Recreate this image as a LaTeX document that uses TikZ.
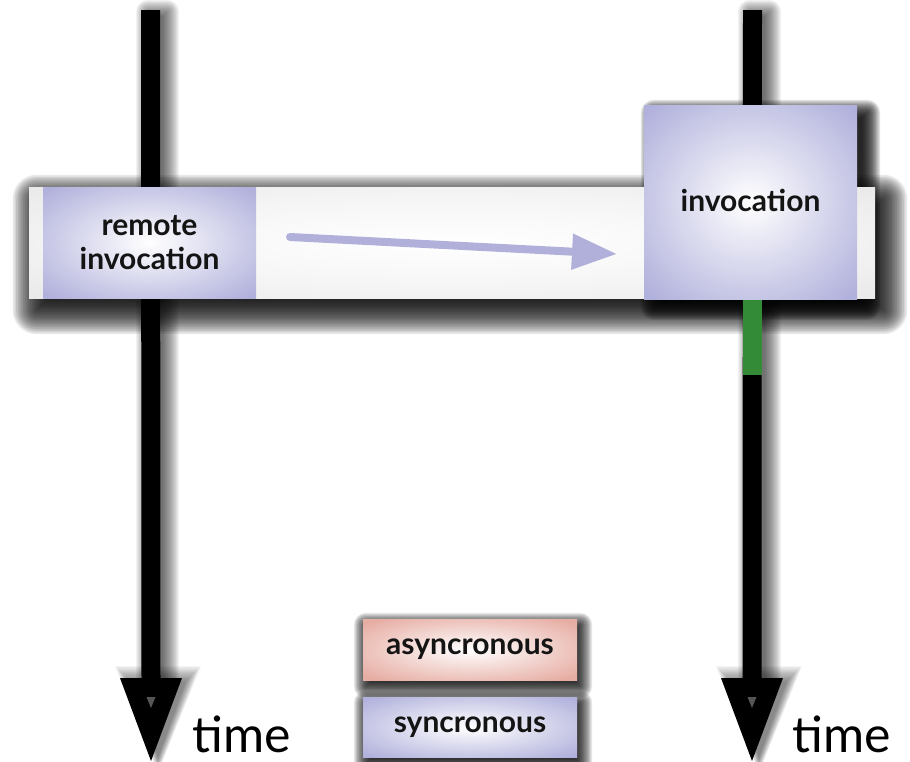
\documentclass[tikz,border=0pt]{standalone}
\usepackage{fontspec}
\setmainfont{Lato}
\usetikzlibrary{calc,arrows.meta}

\definecolor{syncblue}{HTML}{B0B0DC}
\definecolor{syncedge}{HTML}{D0D0DC}
\definecolor{asyncpink}{HTML}{E6ACA2}
\definecolor{asyncedge}{HTML}{DCCAC6}
\definecolor{bandgray}{HTML}{DEDEDE}
\definecolor{msgblue}{HTML}{B0B0DA}
\definecolor{busygreen}{HTML}{338A37}
\definecolor{tipgray}{HTML}{555555}

% radial fills: white centre, coloured ring, greyish corners
\pgfdeclareradialshading{syncshade}{\pgfpoint{0bp}{0bp}}{%
  color(0bp)=(white); color(34bp)=(syncblue); color(50bp)=(syncblue!60!syncedge); color(71bp)=(syncedge)}
\pgfdeclareradialshading{asyncshade}{\pgfpoint{0bp}{0bp}}{%
  color(0bp)=(white); color(33bp)=(asyncpink); color(50bp)=(asyncedge); color(71bp)=(asyncedge)}
\pgfdeclareradialshading{bandshade}{\pgfpoint{0bp}{0bp}}{%
  color(0bp)=(white); color(20bp)=(white!70!bandgray); color(50bp)=(bandgray); color(71bp)=(bandgray)}

% soft drop shadow behind a rectangular node, built from stacked translucent layers:
% #1 node, #2 x offset, #3 y offset (downwards), #4 blur radius, #5 opacity per layer
\newcommand\dropshade[5]{%
  \foreach \k in {0,...,19}{%
    \pgfmathsetmacro\ex{#4*(1-\k/14)}%
    \pgfmathsetmacro\rc{max(\ex,0.5)}%
    \fill[black, opacity=#5, rounded corners=\rc pt]
      ($(#1.north west)+(#2-\ex,#3-\ex)$) rectangle ($(#1.south east)+(#2+\ex,#3+\ex)$);
  }}

\begin{document}
\begin{tikzpicture}[x=1pt,y=-1pt,
  lbl/.style={font=\fontsize{30}{34}\selectfont\bfseries, text=black!92, align=center},
  syncbox/.style={shading=syncshade, inner sep=0pt, lbl},
  asyncbox/.style={shading=asyncshade, inner sep=0pt, lbl},
  bandbox/.style={shading=bandshade, inner sep=0pt},
  timeline/.style={fill=black},
  tipmark/.style={fill=tipgray},
  ghost/.style={inner sep=0pt},
  busy/.style={fill=busygreen, inner sep=0pt, minimum width=19pt, minimum height=75pt},
  msg/.style={draw=msgblue, line width=8pt, line cap=round,
    -{Triangle[width=34pt,length=45pt,fill=msgblue]}},
  timelbl/.style={font=\fontsize{50}{54}\selectfont, text=black, inner sep=0pt, anchor=base west}
]
\useasboundingbox (0,0) rectangle (910,761);

% outlines used to cast shadows
\node[ghost, minimum width=846pt, minimum height=111pt] (bandarea) at (452,242.5) {};
\node[ghost, minimum width=19pt, minimum height=668pt] (Lshaft) at (150.5,344) {};
\node[ghost, minimum width=19pt, minimum height=668pt] (Rshaft) at (752.5,344) {};
\node[ghost, minimum width=213pt, minimum height=194pt] (invocarea) at (750.5,202) {};

\dropshade{bandarea}{8}{12}{24}{0.09}
\dropshade{Lshaft}{7}{2}{12}{0.04}
\dropshade{Rshaft}{7}{2}{12}{0.04}

% time axes of the two processes
\coordinate (Ltop) at (150.5,10);
\coordinate (Lend) at (151,761);
\coordinate (Rtop) at (752.5,10);
\coordinate (Rend) at (752,761);

\foreach \t/\e in {Ltop/Lend, Rtop/Rend}{
  \foreach \k in {0,...,13}{
    \pgfmathsetmacro\ex{12*(1-\k/10)}
    \fill[black, opacity=0.045]
      ($(\e)+(9.5+7+\ex,-83-\ex)$) -- ($(\e)+(31+7+\ex,-83-\ex)$) -- ($(\e)+(7,\ex)$) --
      ($(\e)+(-31+7-\ex,-83-\ex)$) -- cycle;
  }
  \fill[timeline] ($(\t)+(-9.5,0)$) -- ($(\t)+(9.5,0)$) --
    ($(\e)+(9.5,-83)$) -- ($(\e)+(31,-83)$) -- (\e) -- ($(\e)+(-31,-83)$) --
    ($(\e)+(-9.5,-83)$) -- cycle;
  \fill[tipmark] ($(\e)+(-4.5,-64)$) -- ($(\e)+(4.5,-64)$) -- ($(\e)+(0,-53)$) -- cycle;
}

% callee box shadow falls behind the band
\dropshade{invocarea}{10}{8}{13}{0.09}

% the call band
\node[bandbox, minimum width=846pt, minimum height=111pt] (band) at (452,242.5) {};

% caller and callee boxes
\node[syncbox, minimum width=213pt, minimum height=111pt] (remote) at (149.5,242.5)
  {remote\\invocation};
\node[syncbox, minimum width=213pt, minimum height=194pt] (invoc) at (750.5,202)
  {\raisebox{3pt}{invocation}};

% callee busy period
\node[busy] (busy) at (752.5,337.5) {};

% request message
\coordinate (send) at (290,237);
\coordinate (recv) at (617,254);
\draw[msg] (send) -- (recv);

% legend
\node[ghost, minimum width=214pt, minimum height=61pt] (asyncarea) at (470,649.5) {};
\node[ghost, minimum width=214pt, minimum height=60pt] (syncarea) at (470,727) {};
\dropshade{asyncarea}{3}{6}{12}{0.08}
\dropshade{syncarea}{3}{6}{12}{0.08}
\node[asyncbox, minimum width=214pt, minimum height=61pt] (async) at (470,649.5) {asyncronous};
\node[syncbox, minimum width=214pt, minimum height=60pt] (sync) at (470,727) {syncronous};

% axis labels
\node[timelbl] (Ltime) at (192,752) {time};
\node[timelbl] (Rtime) at (792,752) {time};
\end{tikzpicture}
\end{document}
